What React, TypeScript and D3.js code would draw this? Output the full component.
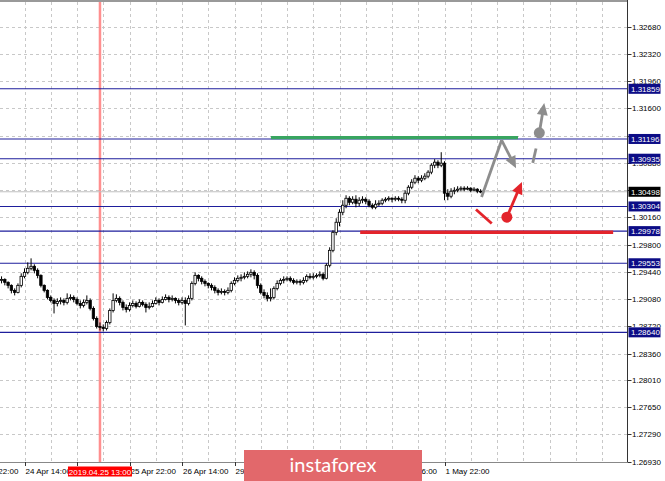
import React from "react";
import * as d3 from "d3";

const W = 665;
const H = 481;

// ---- price data (H1 candles), open of first bar then closes / highs / lows ----
const firstOpen = 1.29354;
const closes = [
  1.29327, 1.2934, 1.29301, 1.29261, 1.29195, 1.29168, 1.29261, 1.2938, 1.29433, 1.29486,
  1.29513, 1.2946, 1.29393, 1.29261, 1.29195, 1.29102, 1.29062, 1.29022, 1.29049, 1.29062,
  1.29036, 1.29089, 1.29102, 1.29075, 1.29022, 1.28996, 1.29036, 1.29062, 1.28956, 1.28824,
  1.28718, 1.28705, 1.28691, 1.28771, 1.2893, 1.29062, 1.29089, 1.29036, 1.28969, 1.28943,
  1.28996, 1.29022, 1.28983, 1.29036, 1.29009, 1.28969, 1.28983, 1.29022, 1.29062, 1.29036,
  1.29075, 1.29102, 1.29075, 1.29089, 1.29062, 1.29036, 1.29062, 1.29022, 1.29089, 1.29287,
  1.29393, 1.29354, 1.29314, 1.29287, 1.29261, 1.29234, 1.29195, 1.29168, 1.29181, 1.29168,
  1.29195, 1.29287, 1.29327, 1.29354, 1.29367, 1.2938, 1.29407, 1.29433, 1.29393, 1.29261,
  1.29168, 1.29128, 1.29089, 1.29102, 1.29221, 1.29287, 1.29327, 1.2934, 1.29354, 1.29327,
  1.29301, 1.29314, 1.29301, 1.29327, 1.2938, 1.29367, 1.2938, 1.29393, 1.29407, 1.29354,
  1.29526, 1.29724, 1.29962, 1.30095, 1.30227, 1.3032, 1.30412, 1.30359, 1.30399, 1.30346,
  1.30386, 1.30399, 1.30373, 1.3032, 1.30293, 1.30333, 1.30346, 1.30386, 1.30399, 1.30412,
  1.30399, 1.30412, 1.30399, 1.30386, 1.30479, 1.30558, 1.30624, 1.30677, 1.30651, 1.30677,
  1.30704, 1.30757, 1.30849, 1.30889, 1.30849, 1.30876, 1.30479, 1.30439, 1.30505, 1.30518,
  1.30532, 1.30545, 1.30532, 1.30545, 1.30518, 1.30532, 1.30505, 1.30498,
];
const highs = [
  1.2938, 1.2938, 1.29354, 1.29314, 1.29274, 1.29221, 1.29287, 1.2942, 1.29486, 1.29565,
  1.29618, 1.29539, 1.29486, 1.29407, 1.29274, 1.29208, 1.29128, 1.29089, 1.29089, 1.29102,
  1.29089, 1.29155, 1.29142, 1.29128, 1.29102, 1.29062, 1.29075, 1.29128, 1.29089, 1.28983,
  1.28851, 1.28771, 1.28745, 1.28797, 1.28956, 1.29155, 1.29142, 1.29115, 1.29062, 1.29009,
  1.29036, 1.29062, 1.29049, 1.29075, 1.29062, 1.29036, 1.29036, 1.29062, 1.29102, 1.29089,
  1.29115, 1.29142, 1.29128, 1.29128, 1.29102, 1.29089, 1.29102, 1.29102, 1.29128, 1.29314,
  1.29433, 1.29407, 1.2938, 1.2934, 1.29301, 1.29287, 1.29261, 1.29221, 1.29221, 1.29208,
  1.29234, 1.29314, 1.29367, 1.29393, 1.29407, 1.29433, 1.29446, 1.29473, 1.2946, 1.2942,
  1.29287, 1.29208, 1.29168, 1.29221, 1.29248, 1.29327, 1.29354, 1.2938, 1.2938, 1.2938,
  1.29354, 1.2934, 1.2934, 1.29367, 1.29407, 1.2942, 1.2942, 1.2942, 1.29446, 1.29433,
  1.29552, 1.29764, 1.29989, 1.30148, 1.30267, 1.30386, 1.30452, 1.30439, 1.30439, 1.30452,
  1.30426, 1.30439, 1.30426, 1.30399, 1.30346, 1.30386, 1.30386, 1.30412, 1.30426, 1.30439,
  1.30426, 1.30439, 1.30439, 1.30426, 1.30518, 1.30585, 1.30664, 1.30717, 1.30704, 1.30717,
  1.30743, 1.30783, 1.30876, 1.30929, 1.30915, 1.31021, 1.30902, 1.30532, 1.30545, 1.30558,
  1.30571, 1.30571, 1.30571, 1.30571, 1.30558, 1.30558, 1.30545, 1.30532,
];
const lows = [
  1.29301, 1.29287, 1.29261, 1.29221, 1.29155, 1.29128, 1.29155, 1.29234, 1.29354, 1.29407,
  1.2946, 1.2942, 1.29354, 1.29234, 1.29168, 1.29075, 1.29036, 1.2889, 1.28983, 1.29009,
  1.28996, 1.29009, 1.29062, 1.29036, 1.28996, 1.28956, 1.28969, 1.29009, 1.2893, 1.28797,
  1.28691, 1.28665, 1.28652, 1.28665, 1.28745, 1.28903, 1.29036, 1.28996, 1.2893, 1.28903,
  1.28916, 1.28969, 1.28956, 1.28969, 1.28983, 1.28903, 1.28943, 1.28969, 1.29009, 1.28996,
  1.29022, 1.29062, 1.29036, 1.29049, 1.29022, 1.28996, 1.29009, 1.28731, 1.28996, 1.29062,
  1.29261, 1.29314, 1.29274, 1.29248, 1.29221, 1.29195, 1.29155, 1.29128, 1.29142, 1.29128,
  1.29142, 1.29168, 1.29261, 1.29301, 1.29314, 1.2934, 1.29354, 1.29367, 1.2934, 1.29221,
  1.29142, 1.29089, 1.29049, 1.29049, 1.29075, 1.29195, 1.29261, 1.29287, 1.29314, 1.29301,
  1.29274, 1.29274, 1.29261, 1.29274, 1.29301, 1.2934, 1.2934, 1.29354, 1.29367, 1.29327,
  1.2934, 1.29499, 1.29698, 1.29923, 1.30042, 1.30188, 1.3028, 1.3032, 1.30333, 1.30293,
  1.30307, 1.30346, 1.30333, 1.30293, 1.30267, 1.30267, 1.30307, 1.3032, 1.30359, 1.30373,
  1.30359, 1.30373, 1.30373, 1.30346, 1.30346, 1.30452, 1.30532, 1.30598, 1.30611, 1.30624,
  1.30651, 1.30677, 1.3073, 1.3081, 1.3081, 1.30823, 1.30386, 1.30386, 1.30412, 1.30465,
  1.30492, 1.30505, 1.30505, 1.30518, 1.30492, 1.30505, 1.30479, 1.30479,
];

// ---- axes ----
const priceTicks = [
  1.3268, 1.3232, 1.3196, 1.316, 1.3124, 1.3088, 1.3052, 1.3016, 1.298, 1.2944, 1.2908,
  1.2872, 1.2836, 1.2801, 1.2765, 1.2729, 1.2693,
];
const levelPrices = [1.31859, 1.31196, 1.30935, 1.30304, 1.29978, 1.29553, 1.2864];
const currentPrice = 1.30498;
// time labels that are visible (partly) in the reference
const timeTickIdx = [-8, 8, 40, 56, 72, 120, 136];
const timeTickLabels = [
  "23 Apr 22:00", "24 Apr 14:00", "25 Apr 22:00", "26 Apr 14:00",
  "29 Apr 06:00", "1 May 06:00", "1 May 22:00",
];
// ticks whose labels are fully covered (by the marker box / watermark)
const hiddenTickIdx = [24, 88, 104];
const markerIdx = 31;
const markerLabel = "2019.04.25 13:00";

// ---- forecast annotations: [bar index, price] ----
const greenLine = [[83.1, 1.31215], [158.4, 1.31215]];
const redLine = [[110.3, 1.29962], [187.4, 1.29962]];
const grayUpLeg = [[147.3, 1.3043], [153.4, 1.3118]];
const grayDownArrow = [[153.4, 1.3118], [157.8, 1.3081]];
const grayDash = [[162.9, 1.3088], [163.9, 1.3107]];
const grayUpArrow = [[164.9, 1.31277], [166.4, 1.3167]];
const redSeg = [[145.6, 1.30263], [150.4, 1.30078]];
const redUpArrow = [[155, 1.30162], [159.6, 1.30628]];

const PR = 627.5;
const PB = 462;
const FONT = "'Liberation Sans', Arial, sans-serif";

const x = d3.scaleLinear().domain([8, 136]).range([24.5, 444.5]);
const y = d3.scaleLinear().domain([1.2693, 1.3268]).range([461.7, 26.7]);

function arrowHead(x1: number, y1: number, x2: number, y2: number, len: number, half: number) {
  const dx = x2 - x1;
  const dy = y2 - y1;
  const L = Math.hypot(dx, dy);
  const ux = dx / L;
  const uy = dy / L;
  const bx = x2 - ux * len;
  const by = y2 - uy * len;
  return `${x2},${y2} ${bx - uy * half},${by + ux * half} ${bx + uy * half},${by - ux * half}`;
}

function Arrow({ pts, color, width, circle }: { pts: number[][]; color: string; width: number; circle?: boolean }) {
  const x1 = x(pts[0][0]);
  const y1 = y(pts[0][1]);
  const x2 = x(pts[1][0]);
  const y2 = y(pts[1][1]);
  const L = Math.hypot(x2 - x1, y2 - y1);
  const hl = 12;
  const ex = x2 - ((x2 - x1) / L) * (hl - 2);
  const ey = y2 - ((y2 - y1) / L) * (hl - 2);
  return (
    <g>
      <line x1={x1} y1={y1} x2={ex} y2={ey} stroke={color} strokeWidth={width} />
      <polygon points={arrowHead(x1, y1, x2, y2, hl, 5.5)} fill={color} />
      {circle && <circle cx={x1} cy={y1} r={5.5} fill={color} />}
    </g>
  );
}

export default function App() {
  const n = closes.length;
  const candles = d3.range(n).map((i) => {
    const o = i === 0 ? firstOpen : closes[i - 1];
    const c = closes[i];
    return { i, o, c, h: Math.max(highs[i], o, c), l: Math.min(lows[i], o, c) };
  });
  const vGrid = d3.range(8, 190, 8);
  const gray = "#8d8d8d";
  const red = "#e3242b";
  const mx = x(markerIdx);

  // price-axis label boxes (levels + current price), sorted top to bottom
  const boxYs = [...levelPrices, currentPrice].map((p) => y(p)).sort((a, b) => a - b);
  const gaps: { y0: number; y1: number }[] = [];
  let prev = 0;
  boxYs.forEach((by) => {
    gaps.push({ y0: prev, y1: by - 5 });
    prev = by + 5;
  });
  gaps.push({ y0: prev, y1: H });

  return (
    <svg width={W} height={H} style={{ position: "absolute", left: 0, top: 0, background: "#fff" }} fontFamily={FONT}>
      <defs>
        <clipPath id="plot">
          <rect x={0} y={2} width={PR} height={PB - 2} />
        </clipPath>
        <clipPath id="axisText">
          <rect x={0} y={462} width={mx - 32} height={20} />
          <rect x={mx + 32} y={462} width={244 - (mx + 32)} height={20} />
          <rect x={422} y={462} width={PR - 422} height={20} />
        </clipPath>
        <clipPath id="priceText">
          {gaps.map((g, k) => (
            <rect key={k} x={628} y={g.y0} width={40} height={Math.max(0, g.y1 - g.y0)} />
          ))}
        </clipPath>
      </defs>
      {/* grid */}
      <g stroke="#c8c8c8" strokeWidth={1} strokeDasharray="3,3">
        {vGrid.map((i) => (
          <line key={"v" + i} x1={Math.round(x(i)) + 0.5} x2={Math.round(x(i)) + 0.5} y1={2} y2={PB} />
        ))}
        {priceTicks.map((p) => (
          <line key={"h" + p} x1={0} x2={PR} y1={Math.round(y(p)) + 0.5} y2={Math.round(y(p)) + 0.5} />
        ))}
      </g>
      {/* marker vertical line */}
      <line x1={mx} x2={mx} y1={2} y2={PB} stroke="#ff8f8f" strokeWidth={2.5} />
      {/* level lines */}
      <g clipPath="url(#plot)">
        <line x1={0} x2={PR} y1={y(currentPrice)} y2={y(currentPrice)} stroke="#c0c0c0" strokeWidth={1} />
        {levelPrices.map((p) => (
          <line key={"l" + p} x1={0} x2={PR} y1={y(p)} y2={y(p)} stroke="#1e1e9c" strokeWidth={1.1} />
        ))}
        {/* candles */}
        {candles.map((d) => {
          const cx = x(d.i);
          const bull = d.c >= d.o;
          const top = y(Math.max(d.o, d.c));
          const bot = y(Math.min(d.o, d.c));
          return (
            <g key={d.i}>
              <line x1={cx} x2={cx} y1={y(d.h)} y2={y(d.l)} stroke="#000" strokeWidth={1} />
              <rect
                x={cx - 1.2}
                y={top}
                width={2.4}
                height={Math.max(bot - top, 0.8)}
                fill={bull ? "#fff" : "#000"}
                stroke="#000"
                strokeWidth={0.8}
              />
            </g>
          );
        })}
        {/* annotations */}
        <line x1={x(greenLine[0][0])} x2={x(greenLine[1][0])} y1={y(greenLine[0][1])} y2={y(greenLine[1][1])} stroke="#38a560" strokeWidth={3.2} />
        <line x1={x(redLine[0][0])} x2={x(redLine[1][0])} y1={y(redLine[0][1])} y2={y(redLine[1][1])} stroke={red} strokeWidth={3.4} />
        <line x1={x(grayUpLeg[0][0])} x2={x(grayUpLeg[1][0])} y1={y(grayUpLeg[0][1])} y2={y(grayUpLeg[1][1])} stroke={gray} strokeWidth={2.8} />
        <Arrow pts={grayDownArrow} color={gray} width={2.8} />
        <line x1={x(grayDash[0][0])} x2={x(grayDash[1][0])} y1={y(grayDash[0][1])} y2={y(grayDash[1][1])} stroke={gray} strokeWidth={2.8} />
        <Arrow pts={grayUpArrow} color={gray} width={2.8} circle />
        <line x1={x(redSeg[0][0])} x2={x(redSeg[1][0])} y1={y(redSeg[0][1])} y2={y(redSeg[1][1])} stroke={red} strokeWidth={2.8} />
        <Arrow pts={redUpArrow} color={red} width={2.8} circle />
      </g>
      {/* frame */}
      <line x1={0} x2={PR} y1={1} y2={1} stroke="#999" strokeWidth={2} />
      <line x1={PR} x2={PR} y1={0} y2={PB} stroke="#333" strokeWidth={1} />
      <line x1={0} x2={PR} y1={PB + 0.5} y2={PB + 0.5} stroke="#888" strokeWidth={1} />
      {/* price axis */}
      <g fontSize={8} fill="#000">
        {priceTicks.map((p) => (
          <line key={"tk" + p} x1={PR} x2={PR + 4} y1={Math.round(y(p)) + 0.5} y2={Math.round(y(p)) + 0.5} stroke="#333" />
        ))}
        <g clipPath="url(#priceText)">
          {priceTicks.map((p) => (
            <text key={"t" + p} x={632} y={y(p) + 3}>{p.toFixed(5)}</text>
          ))}
        </g>
        {levelPrices.map((p) => (
          <g key={"b" + p}>
            <rect x={628.5} y={y(p) - 5} width={32} height={10} fill="#0c0c86" />
            <text x={631} y={y(p) + 3} fill="#fff">{p.toFixed(5)}</text>
          </g>
        ))}
        <rect x={628.5} y={y(currentPrice) - 5} width={32} height={10} fill="#000" />
        <text x={631} y={y(currentPrice) + 3} fill="#fff">{currentPrice.toFixed(5)}</text>
      </g>
      {/* time axis */}
      <g fontSize={8} fill="#000">
        {[...timeTickIdx, ...hiddenTickIdx].map((t) => (
          <line key={"xt" + t} x1={Math.round(x(t)) + 0.5} x2={Math.round(x(t)) + 0.5} y1={PB} y2={PB + 4} stroke="#333" />
        ))}
        <g clipPath="url(#axisText)">
          {timeTickIdx.map((t, k) => (
            <text key={"x" + t} x={x(t) + 1} y={474}>{timeTickLabels[k]}</text>
          ))}
        </g>
        <rect x={mx - 32} y={466.5} width={64} height={10} fill="#ff0000" />
        <text x={mx} y={474.5} textAnchor="middle" fill="#fff">{markerLabel}</text>
      </g>
      {/* watermark */}
      <rect x={244} y={450} width={178} height={40} fill="#e2686b" />
      <text x={333} y={472} textAnchor="middle" fontSize={20} fill="#fff" fontFamily="Lato, 'Open Sans', sans-serif">
        instaforex
      </text>
    </svg>
  );
}
